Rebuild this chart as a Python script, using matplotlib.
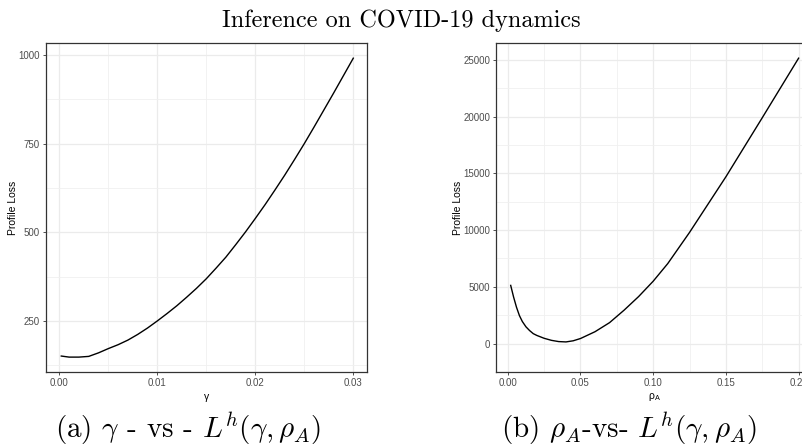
import matplotlib
matplotlib.use("Agg")
import matplotlib.pyplot as plt

# profile loss vs gamma (panel a)
gamma = [0.0002, 0.001, 0.002, 0.003, 0.004, 0.005, 0.006, 0.007, 0.008, 0.009,
         0.010, 0.011, 0.012, 0.013, 0.014, 0.015, 0.016, 0.017, 0.018, 0.019,
         0.020, 0.021, 0.022, 0.023, 0.024, 0.025, 0.026, 0.027, 0.028, 0.029, 0.030]
loss_gamma = [151, 148, 148, 150, 160, 172, 183, 196, 212, 230,
              250, 271, 293, 317, 342, 369, 399, 430, 465, 501,
              539, 578, 619, 661, 705, 750, 797, 845, 893, 942, 991]

# profile loss vs rho_A (panel b)
rho = [0.002, 0.004, 0.006, 0.008, 0.010, 0.0125, 0.015, 0.0175, 0.020, 0.025,
       0.030, 0.035, 0.040, 0.045, 0.050, 0.060, 0.070, 0.075, 0.080, 0.090,
       0.100, 0.110, 0.125, 0.150, 0.175, 0.200]
loss_rho = [5130, 4100, 3200, 2470, 1950, 1480, 1150, 880, 720, 470,
            290, 180, 150, 250, 450, 1050, 1850, 2400, 2950, 4150,
            5500, 7050, 9800, 14700, 19900, 25150]

xticks_a = [0.00, 0.01, 0.02, 0.03]
yticks_a = [250, 500, 750, 1000]
xticks_b = [0.00, 0.05, 0.10, 0.15, 0.20]
yticks_b = [0, 5000, 10000, 15000, 20000, 25000]

plt.rcParams['font.family'] = 'Liberation Sans'

fig = plt.figure(figsize=(8.02, 4.48), dpi=100)


def style(ax, xt, yt, xfmt, xlim, ylim):
    ax.set_xlim(*xlim)
    ax.set_ylim(*ylim)
    ax.set_xticks(xt)
    ax.set_xticklabels([xfmt % v for v in xt])
    ax.set_yticks(yt)
    ax.set_yticklabels([str(v) for v in yt])
    ax.set_xticks([(a + b) / 2 for a, b in zip(xt[:-1], xt[1:])], minor=True)
    ym = [yt[0] - (yt[1] - yt[0]) / 2] + [(a + b) / 2 for a, b in zip(yt[:-1], yt[1:])]
    ax.set_yticks(ym, minor=True)
    ax.grid(which='major', color='#EBEBEB', lw=0.9)
    ax.grid(which='minor', color='#F0F0F0', lw=0.6)
    ax.set_axisbelow(True)
    ax.tick_params(which='major', length=2.2, width=0.6, color='#333333',
                   labelsize=7, labelcolor='#4D4D4D', pad=2)
    ax.tick_params(which='minor', length=0)
    for s in ax.spines.values():
        s.set_color('#333333')
        s.set_linewidth(0.9)


ax1 = fig.add_axes([45.7 / 802, 1 - 372 / 448, 321.3 / 802, 328.7 / 448])
ax1.plot(gamma, loss_gamma, color='black', lw=1.0)
style(ax1, xticks_a, yticks_a, '%.2f', (-0.00139, 0.0314), (106, 1033))
ax1.set_xlabel('γ', fontsize=7.5, labelpad=3)
ax1.set_ylabel('Profile Loss', fontsize=7.5)
ax1.yaxis.set_label_coords(-0.085, 0.5)

ax2 = fig.add_axes([496.3 / 802, 1 - 372 / 448, 316.7 / 802, 328.7 / 448])
ax2.plot(rho, loss_rho, color='black', lw=1.0)
style(ax2, xticks_b, yticks_b, '%.2f', (-0.0079, 0.2099), (-1116, 26460))
ax2.set_xlabel(r'ρ$_\mathregular{A}$', fontsize=7.5, labelpad=2)
ax2.set_ylabel('Profile Loss', fontsize=7.5)
ax2.yaxis.set_label_coords(-0.104, 0.5)

fig.text(0.5, 1 - 27 / 448, 'Inference on COVID-19 dynamics', ha='center',
         va='baseline', fontsize=17.5, family='cmr10', math_fontfamily='cm')
fig.text(188 / 802, 1 - 438 / 448, r'(a) $\gamma$ - vs - $L^h(\gamma,\rho_A)$',
         ha='center', va='baseline', fontsize=21, family='cmr10', math_fontfamily='cm')
fig.text(629 / 802, 1 - 438 / 448, r'(b) $\rho_A$-vs- $L^h(\gamma,\rho_A)$',
         ha='center', va='baseline', fontsize=21, family='cmr10', math_fontfamily='cm')

fig.savefig('out.png', dpi=100)
